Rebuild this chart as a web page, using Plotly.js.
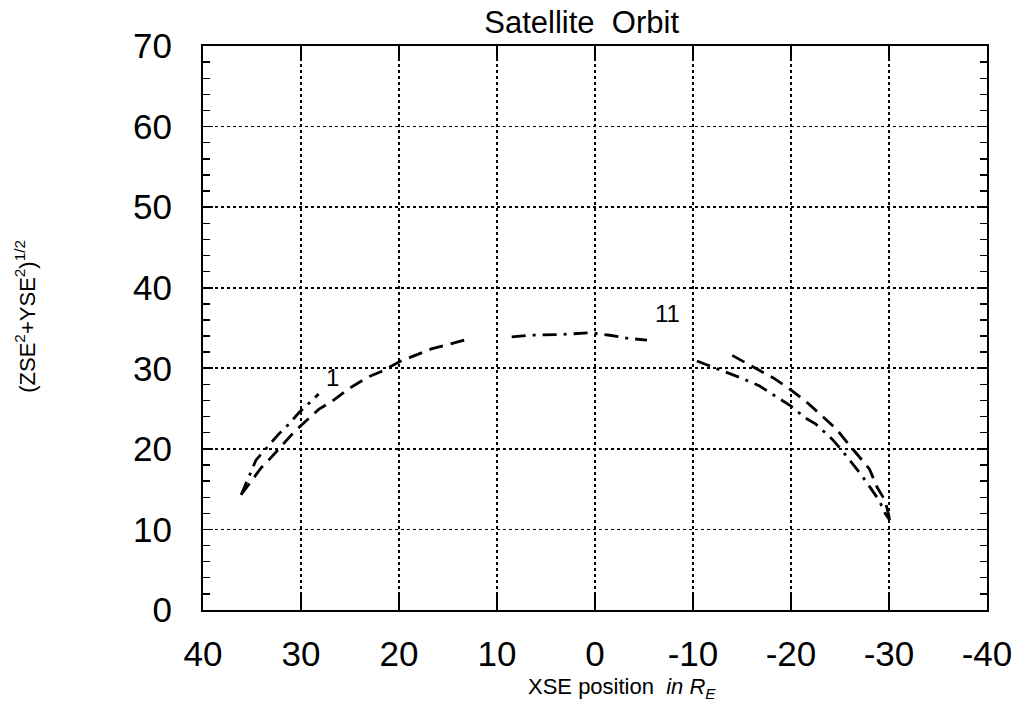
<!DOCTYPE html>
<html>
<head>
<meta charset="utf-8">
<script src="https://cdn.plot.ly/plotly-3.0.1.min.js"></script>
<style>html,body{margin:0;padding:0;background:#fff}#chart{width:1034px;height:710px}</style>
</head>
<body>
<div id="chart"></div>
<script>
// Orbit traced with dashes (labelled "1")
const orbit1X = [36.1, 34.1, 33.3, 32.0, 30.7, 29.0, 28.2, 26.6, 25.2, 23.2, 21.8, 19.8, 16.7, 13.0, null,
                 -14.0, -18.2, -19.8, -21.5, -22.7, -24.6, -25.6, -26.7, -28.0, -28.8, -29.6, -30.1];
const orbit1Y = [14.3, 17.6, 18.6, 20.3, 22.1, 24.0, 24.9, 26.1, 27.4, 28.9, 29.6, 30.9, 32.4, 33.6, null,
                 31.6, 28.8, 27.5, 25.9, 24.6, 22.5, 21.0, 19.4, 17.5, 15.2, 13.6, 11.1];
// Orbit traced with dash-dots (labelled "11")
const orbit11X = [36.1, 34.6, 32.3, 31.3, 30.2, 29.0, 28.2, null,
                  8.5, 6.5, 3.5, 0.5, -1.5, -3.5, -5.3, null,
                  -10.4, -14.9, -16.8, -20.0, -21.5, -22.5, -24.2, -25.2, -27.1, -28.0, -29.0, -29.6, -30.1];
const orbit11Y = [14.3, 18.6, 21.8, 23.0, 24.5, 25.9, 26.8, null,
                  33.9, 34.1, 34.2, 34.4, 34.1, 33.7, 33.5, null,
                  30.9, 28.8, 27.8, 25.3, 23.8, 23.1, 21.2, 19.8, 16.9, 15.4, 13.6, 12.0, 11.1];
const orbitLabels = ["1", "11"];
const labelX = [26.8, -7.4];
const labelY = [28.9, 36.8];
const xTicks = [40, 30, 20, 10, 0, -10, -20, -30, -40];
const yTicks = [0, 10, 20, 30, 40, 50, 60, 70];

const FONT = '"Liberation Sans", Arial, Helvetica, sans-serif';

const traces = [
  {x: orbit1X, y: orbit1Y, type: 'scatter', mode: 'lines', connectgaps: false,
   line: {color: '#000', width: 2.8, dash: '14px,8px'}, hoverinfo: 'skip'},
  {x: orbit11X, y: orbit11Y, type: 'scatter', mode: 'lines', connectgaps: false,
   line: {color: '#000', width: 2.8, dash: '14px,7px,3px,7px'}, hoverinfo: 'skip'}
];

const annotations = orbitLabels.map((t, i) => ({
  x: labelX[i], y: labelY[i], xref: 'x', yref: 'y', text: t, showarrow: false,
  font: {family: FONT, size: 24, color: '#000'}
}));
annotations.push({
  xref: 'paper', yref: 'paper', x: 0.534, y: -0.138, xanchor: 'center', yanchor: 'middle',
  text: 'XSE position&nbsp;&nbsp;<i>in R<sub>E</sub></i>', showarrow: false,
  font: {family: FONT, size: 22, color: '#000'}
});
annotations.push({
  xref: 'paper', yref: 'paper', x: -0.227, y: 0.52, xanchor: 'center', yanchor: 'middle',
  textangle: -90, text: '(ZSE<sup>2</sup>+YSE<sup>2</sup>)<sup>1/2</sup>', showarrow: false,
  font: {family: FONT, size: 22, color: '#000'}
});

const layout = {
  width: 1034, height: 710,
  paper_bgcolor: '#fff', plot_bgcolor: '#fff',
  margin: {l: 203, r: 47, t: 46, b: 100},
  showlegend: false,
  title: {text: 'Satellite&nbsp;&nbsp;Orbit', x: 0.483, xref: 'paper', xanchor: 'center',
          y: 0.969, yref: 'container', yanchor: 'middle',
          font: {family: FONT, size: 31, color: '#000'}},
  xaxis: {
    range: [40, -40], tickvals: xTicks, ticktext: xTicks.map(String),
    showgrid: true, gridcolor: '#000', gridwidth: 1.6, griddash: 'dot',
    zeroline: false, showline: true, linecolor: '#000', linewidth: 2, mirror: 'allticks',
    ticks: 'inside', ticklen: 15, tickwidth: 1.6, tickcolor: '#000',
    tickfont: {family: FONT, size: 35, color: '#000'}, ticklabelstandoff: 12
  },
  yaxis: {
    range: [0, 70], tickvals: yTicks, ticktext: yTicks.map(String),
    showgrid: true, gridcolor: '#000', gridwidth: 1.6, griddash: 'dot',
    zeroline: false, showline: true, linecolor: '#000', linewidth: 2, mirror: 'allticks',
    ticks: 'inside', ticklen: 10, tickwidth: 1.6, tickcolor: '#000',
    minor: {dtick: 2, ticks: 'inside', ticklen: 7, tickwidth: 1.4, tickcolor: '#000', showgrid: false},
    tickfont: {family: FONT, size: 35, color: '#000'}, ticklabelstandoff: 22
  },
  annotations: annotations
};

Plotly.newPlot('chart', traces, layout, {displayModeBar: false, staticPlot: true});
</script>
</body>
</html>
